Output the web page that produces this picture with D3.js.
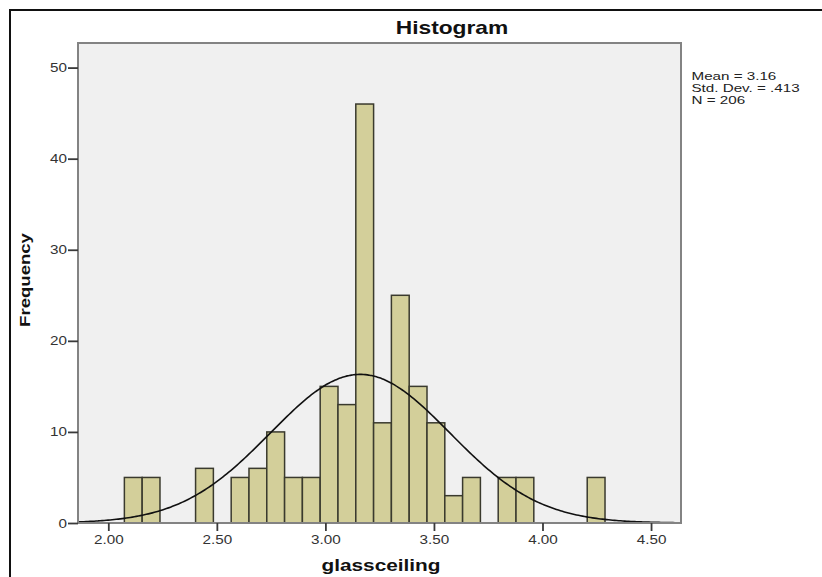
<!DOCTYPE html>
<html>
<head>
<meta charset="utf-8">
<script src="https://cdn.jsdelivr.net/npm/d3@7"></script>
<style>
    body { margin: 0; background: #fff; }
    text { font-family: "Liberation Sans", Arial, sans-serif; }
</style>
</head>
<body>
<svg id="chart" width="822" height="577"></svg>
<script>
// histogram counts, one per bin
const frequencies = [5, 5, 0, 0, 6, 0, 5, 6, 10, 5, 5, 15, 13, 46, 11, 25, 15, 11, 3, 5, 0, 5, 5, 0, 0, 0, 5];
const binStart = 2.074;
const binWidth = 0.082;

const xTicks = [2.0, 2.5, 3.0, 3.5, 4.0, 4.5];
const yTicks = [0, 10, 20, 30, 40, 50];

const stats = { mean: 3.16, sd: 0.413, n: 206 };
const statLines = ["Mean = 3.16", "Std. Dev. = .413", "N = 206"];

const plot = { left: 78, right: 681, top: 43, bottom: 523 };

var svg = d3.select("#chart");

// stretch text a bit wider, the source fonts are broader than arial
function widen(sel, k) {
    sel.each(function () {
        var w = this.getComputedTextLength();
        d3.select(this).attr("textLength", w * k).attr("lengthAdjust", "spacingAndGlyphs");
    });
}

// outer frame
svg.append("rect")
    .attr("x", 10).attr("y", 10)
    .attr("width", 840).attr("height", 600)
    .attr("fill", "none")
    .attr("stroke", "#111")
    .attr("stroke-width", 2);

var x = d3.scaleLinear().domain([1.8604, 4.638]).range([plot.left, plot.right]);
var y = d3.scaleLinear().domain([0, 52.7]).range([plot.bottom, plot.top]);

svg.append("rect")
    .attr("x", plot.left).attr("y", plot.top)
    .attr("width", plot.right - plot.left)
    .attr("height", plot.bottom - plot.top)
    .attr("fill", "#f0f0f0");

// bars
svg.append("g").selectAll("rect")
    .data(frequencies.map(function (f, i) { return { x0: binStart + i * binWidth, count: f }; })
        .filter(function (d) { return d.count > 0; }))
    .join("rect")
    .attr("x", function (d) { return x(d.x0); })
    .attr("y", function (d) { return y(d.count); })
    .attr("width", function (d) { return x(d.x0 + binWidth) - x(d.x0); })
    .attr("height", function (d) { return y(0) - y(d.count); })
    .attr("fill", "#d3cf9a")
    .attr("stroke", "#3a3a2e")
    .attr("stroke-width", 1.5);

// normal curve from mean / sd, scaled to counts
var curvePts = d3.range(0, 301).map(function (i) {
    var v = x.domain()[0] + (x.domain()[1] - x.domain()[0]) * i / 300;
    var z = (v - stats.mean) / stats.sd;
    var dens = Math.exp(-0.5 * z * z) / (stats.sd * Math.sqrt(2 * Math.PI));
    return [v, stats.n * binWidth * dens];
});

svg.append("path")
    .datum(curvePts)
    .attr("fill", "none")
    .attr("stroke", "#111")
    .attr("stroke-width", 1.6)
    .attr("d", d3.line().x(function (d) { return x(d[0]); }).y(function (d) { return y(d[1]); }).curve(d3.curveBasis));

// plot border
svg.append("rect")
    .attr("x", plot.left).attr("y", plot.top)
    .attr("width", plot.right - plot.left)
    .attr("height", plot.bottom - plot.top)
    .attr("fill", "none")
    .attr("stroke", "#838383")
    .attr("stroke-width", 2);

// axes
var xAxis = svg.append("g")
    .attr("transform", "translate(0," + plot.bottom + ")")
    .call(d3.axisBottom(x).tickValues(xTicks).tickFormat(d3.format(".2f")).tickSize(8).tickPadding(4));

var yAxis = svg.append("g")
    .attr("transform", "translate(" + plot.left + ",0)")
    .call(d3.axisLeft(y).tickValues(yTicks).tickSize(10).tickPadding(1));

[xAxis, yAxis].forEach(function (a) {
    a.select(".domain").remove();
    a.selectAll(".tick line").attr("stroke", "#3a3a3a").attr("stroke-width", 1.8);
    a.selectAll(".tick text")
        .attr("fill", "#333")
        .style("font-family", "'Liberation Sans', Arial, sans-serif")
        .style("font-size", "12.5px");
});
widen(xAxis.selectAll(".tick text"), 1.22);
widen(yAxis.selectAll(".tick text"), 1.22);

// titles
svg.append("text")
    .attr("x", 452).attr("y", 33.5)
    .attr("text-anchor", "middle")
    .style("font-size", "18.5px")
    .style("font-weight", "bold")
    .attr("fill", "#111")
    .text("Histogram")
    .call(widen, 1.23);

svg.append("text")
    .attr("x", 381).attr("y", 571)
    .attr("text-anchor", "middle")
    .style("font-size", "16.8px")
    .style("font-weight", "bold")
    .attr("fill", "#111")
    .text("glassceiling")
    .call(widen, 1.24);

svg.append("text")
    .attr("transform", "translate(29.5,280) rotate(-90)")
    .attr("text-anchor", "middle")
    .style("font-size", "14.4px")
    .style("font-weight", "bold")
    .attr("fill", "#111")
    .text("Frequency")
    .call(widen, 1.29);

// stats box on the right
svg.append("g").selectAll("text")
    .data(statLines)
    .join("text")
    .attr("x", 691.5)
    .attr("y", function (d, i) { return 79.5 + i * 12; })
    .style("font-size", "11.5px")
    .attr("fill", "#222")
    .text(function (d) { return d; })
    .call(widen, 1.32);
</script>
</body>
</html>
